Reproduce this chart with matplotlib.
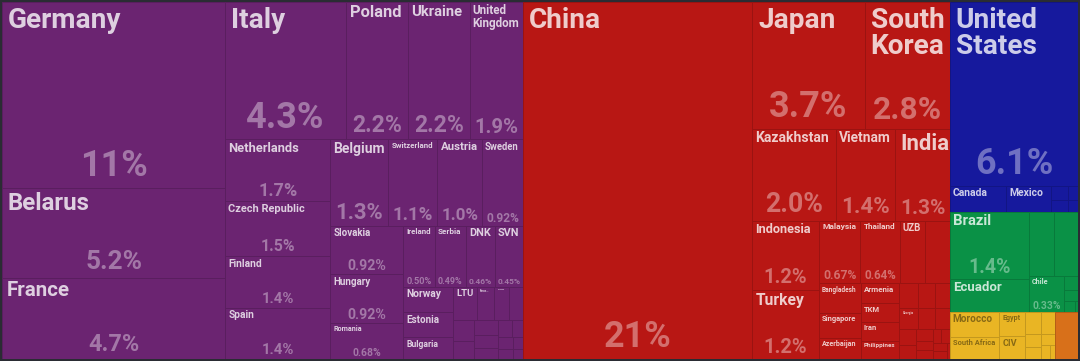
import matplotlib
matplotlib.use("Agg")
import matplotlib.pyplot as plt
from matplotlib.patches import Rectangle
from matplotlib.font_manager import FontProperties
from matplotlib.textpath import TextPath
from matplotlib.colors import to_rgb

# ---- data: share of total (%), label shown in the tile (None = no label) ----
europe_names = ["Germany", "Belarus", "France", "Italy", "Poland", "Ukraine", "United Kingdom",
                "Netherlands", "Czech Republic", "Finland", "Spain", "Belgium", "Switzerland",
                "Austria", "Sweden", "Slovakia", "Hungary", "Romania", "Ireland", "Serbia",
                "Denmark", "Slovenia", "Norway", "Estonia", "Bulgaria", "Lithuania",
                "Faroe Islands", "Moldova", "Latvia", "Croatia", "Portugal", "Greece",
                "Bosnia and Herzegovina", "North Macedonia", "Luxembourg", "Albania",
                "Iceland", "Montenegro", "Malta", "Cyprus"]
europe_labels = ["Germany", "Belarus", "France", "Italy", "Poland", "Ukraine", "United Kingdom",
                 "Netherlands", "Czech Republic", "Finland", "Spain", "Belgium", "Switzerland",
                 "Austria", "Sweden", "Slovakia", "Hungary", "Romania", "Ireland", "Serbia",
                 "DNK", "SVN", "Norway", "Estonia", "Bulgaria", "LTU", "Faroe...", "Moldova",
                 None, None, None, None, None, None, None, None, None, None, None, None]
europe_values = [10.75, 5.2, 4.7, 4.3, 2.2, 2.2, 1.9, 1.7, 1.5, 1.4, 1.4, 1.3, 1.1, 1.0,
                 0.92, 0.92, 0.92, 0.68, 0.50, 0.49, 0.46, 0.45, 0.33, 0.32, 0.28, 0.21,
                 0.15, 0.13, 0.12, 0.11, 0.10, 0.09, 0.08, 0.07, 0.06, 0.05, 0.045, 0.04,
                 0.03, 0.025]

asia_names = ["China", "Japan", "South Korea", "Kazakhstan", "Vietnam", "India", "Indonesia",
              "Turkey", "Malaysia", "Thailand", "Uzbekistan", "Kyrgyzstan", "Bangladesh",
              "Singapore", "Azerbaijan", "Armenia", "Turkmenistan", "Iran", "Philippines",
              "Mongolia", "Pakistan", "Saudi Arabia", "Georgia", "Tajikistan", "Sri Lanka",
              "Cambodia", "Hong Kong", "Myanmar", "Jordan", "Lebanon", "Qatar", "Israel",
              "Kuwait", "Nepal", "Laos"]
asia_labels = ["China", "Japan", "South Korea", "Kazakhstan", "Vietnam", "India", "Indonesia",
               "Turkey", "Malaysia", "Thailand", "UZB", None, "Bangladesh", "Singapore",
               "Azerbaijan", "Armenia", "TKM", "Iran", "Philippines", None, None, None,
               "Georgia", None, None, None, None, None, None, None, None, None, None, None, None]
asia_values = [21.2, 3.7, 2.8, 2.0, 1.4, 1.3, 1.2, 1.2, 0.67, 0.64, 0.41, 0.40, 0.32, 0.27,
               0.23, 0.20, 0.19, 0.19, 0.18, 0.12, 0.11, 0.10, 0.10, 0.09, 0.08, 0.07, 0.06,
               0.05, 0.04, 0.04, 0.03, 0.03, 0.03, 0.03, 0.01]

namerica_names = ["United States", "Canada", "Mexico", "Guatemala", "Panama", "Cuba", "Costa Rica"]
namerica_labels = ["United States", "Canada", "Mexico", None, None, None, None]
namerica_values = [6.1, 0.38, 0.30, 0.06, 0.05, 0.04, 0.03]

samerica_names = ["Brazil", "Ecuador", "Argentina", "Peru", "Chile", "Colombia", "Uruguay",
                  "Paraguay", "Bolivia"]
samerica_labels = ["Brazil", "Ecuador", None, None, "Chile", None, None, None, None]
samerica_values = [1.38, 0.68, 0.42, 0.40, 0.33, 0.05, 0.04, 0.03, 0.01]

africa_names = ["Morocco", "South Africa", "Egypt", "Cote d'Ivoire", "Tunisia", "Kenya",
                "Algeria", "Ghana", "Nigeria", "Ethiopia", "Tanzania"]
africa_labels = ["Morocco", "South Africa", "Egypt", "CIV", None, None, None, None, None,
                 None, None]
africa_values = [0.32, 0.28, 0.16, 0.15, 0.09, 0.08, 0.06, 0.05, 0.04, 0.03, 0.02]

oceania_names = ["Australia"]
oceania_labels = [None]
oceania_values = [0.28]

continents = [
    ("Europe", "#6b2471", europe_names, europe_labels, europe_values),
    ("Asia", "#b81714", asia_names, asia_labels, asia_values),
    ("North America", "#16199d", namerica_names, namerica_labels, namerica_values),
    ("South America", "#0a9146", samerica_names, samerica_labels, samerica_values),
    ("Africa", "#e9b524", africa_names, africa_labels, africa_values),
    ("Oceania", "#d8701a", oceania_names, oceania_labels, oceania_values),
]

W, H = 1076, 357   # drawing area in pixels
DPI = 100
PHI = (1 + 5 ** 0.5) / 2
FONT = FontProperties(family="Roboto", weight="bold")


def squarify(values, x0, y0, x1, y1):
    # port of d3.treemapSquarify (values sorted descending)
    rects = [None] * len(values)
    value = sum(values)
    n = len(values)
    i0 = i1 = 0
    while i0 < n:
        dx, dy = x1 - x0, y1 - y0
        s = values[i1]
        i1 += 1
        vmin = vmax = s
        alpha = max(dy / dx, dx / dy) / (value * PHI)
        beta = s * s * alpha
        best = max(vmax / beta, beta / vmin)
        while i1 < n:
            v = values[i1]
            s2 = s + v
            mn, mx = min(vmin, v), max(vmax, v)
            beta = s2 * s2 * alpha
            r = max(mx / beta, beta / mn)
            if r > best:
                break
            s, vmin, vmax, best = s2, mn, mx, r
            i1 += 1
        if dx < dy:
            ny = y0 + dy * s / value
            x = x0
            for i in range(i0, i1):
                w = dx * values[i] / s
                rects[i] = (x, y0, x + w, ny)
                x += w
            y0 = ny
        else:
            nx = x0 + dx * s / value
            y = y0
            for i in range(i0, i1):
                h = dy * values[i] / s
                rects[i] = (x0, y, nx, y + h)
                y += h
            x0 = nx
        value -= s
        i0 = i1
    return rects


def mix(c, other, t):
    a, b = to_rgb(c), to_rgb(other)
    return tuple(a[k] * (1 - t) + b[k] * t for k in range(3))


def fit_px(text, avail):
    w1 = TextPath((0, 0), text, size=1, prop=FONT).get_extents().width
    return max(avail, 1) / w1  # font size in px that makes text `avail` px wide


def fmt(v):
    if v >= 10:
        return f"{v:.0f}%"
    if v >= 1:
        return f"{v:.1f}%"
    return f"{v:.2f}%"


px2pt = 72 / DPI

fig = plt.figure(figsize=(10.8, 3.61), dpi=DPI, facecolor="#2a2c33")
ax = fig.add_axes([2 / 1080, 2 / 361, W / 1080, H / 361])
ax.set_xlim(0, W)
ax.set_ylim(H, 0)
ax.axis("off")

continents.sort(key=lambda c: -sum(c[4]))
group_rects = squarify([sum(c[4]) for c in continents], 0, 0, W, H)

for (cname, color, names, labels, values), (gx0, gy0, gx1, gy1) in zip(continents, group_rects):
    order = sorted(range(len(values)), key=lambda i: -values[i])
    vals = [values[i] for i in order]
    rects = squarify(vals, gx0, gy0, gx1, gy1)
    edge = mix(color, "black", 0.16)
    if cname in ("Africa", "Oceania"):
        name_col = mix(color, "black", 0.42)
        pct_col = mix(color, "black", 0.28)
    else:
        name_col = mix(color, "white", 0.78)
        pct_col = mix(color, "white", 0.38)
    for i, (x0, y0, x1, y1) in zip(order, rects):
        w, h = x1 - x0, y1 - y0
        ax.add_patch(Rectangle((x0, y0), w, h, facecolor=color, edgecolor=edge, linewidth=0.7))
        label = labels[i]
        if label is None:
            continue
        show_pct = h >= 34 and w >= 28
        hlim = max(0.4 * (h - 30), 0.2 * h) if show_pct else 0.4 * h
        avail = w - (12 if w >= 60 else 8)
        s1 = min(28, fit_px(label, avail), hlim)
        text, size = label, s1
        words = label.split(" ")
        if len(words) == 2:
            s2 = min(28, fit_px(max(words, key=len), avail), hlim * 0.75)
            if s2 > s1 * 1.15:
                text, size = "\n".join(words), s2
        pad = max(3, min(6, 0.22 * size))
        ax.text(x0 + pad, y0 + pad * 0.8, text, ha="left", va="top", color=name_col,
                fontsize=size * px2pt, fontproperties=FONT, linespacing=0.95)
        if show_pct:
            pct = fmt(values[i])
            ps = min(36, fit_px(pct, 0.78 * w), 0.29 * h)
            ax.text((x0 + x1) / 2, y1 - 0.32 * ps, pct, ha="center", va="baseline",
                    color=pct_col, fontsize=ps * px2pt, fontproperties=FONT)

fig.savefig("out.png", dpi=DPI, facecolor=fig.get_facecolor())
